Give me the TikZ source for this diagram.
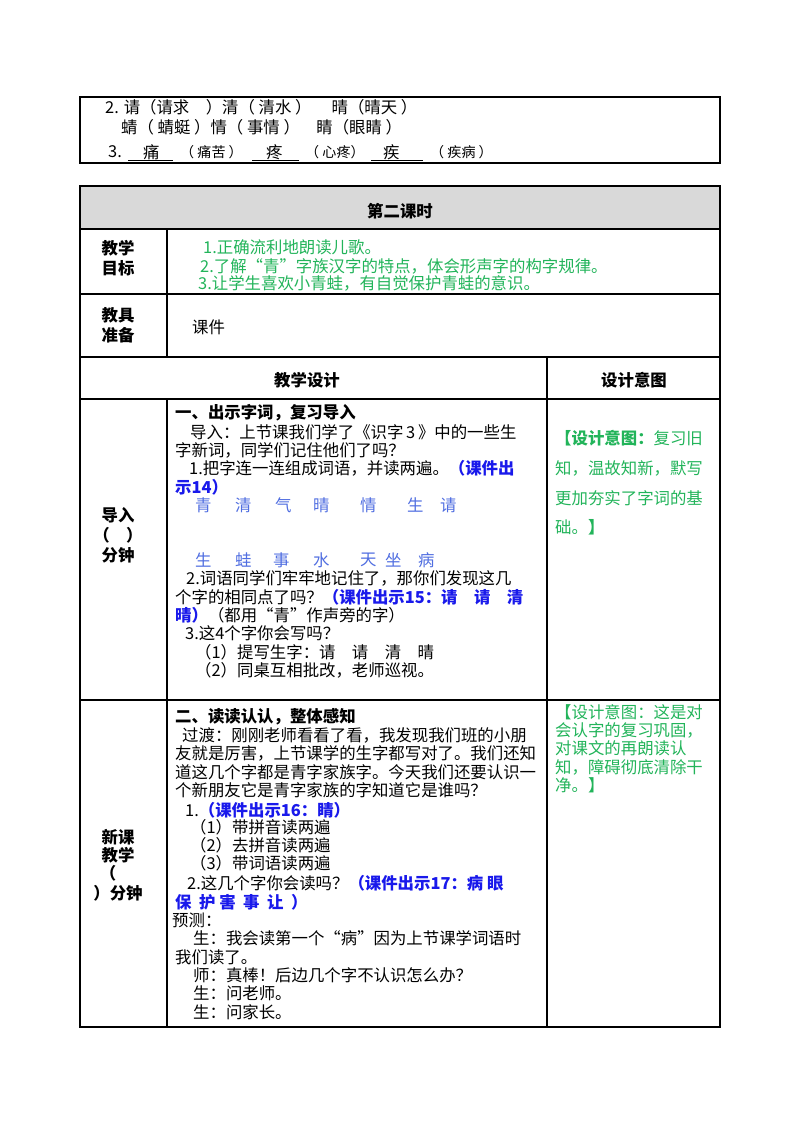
\documentclass[tikz,border=0pt]{standalone}
\usepackage{fontspec}
\setmainfont{Noto Sans CJK SC}
\definecolor{grn}{RGB}{34,180,90}
\definecolor{blu}{RGB}{25,25,235}
\definecolor{lblu}{RGB}{80,110,225}
\definecolor{hdr}{RGB}{217,217,217}
\newcommand{\B}[1]{\textcolor{blu}{\bfseries #1}}
\begin{document}
\begin{tikzpicture}[x=0.03cm,y=-0.03cm,
  tx/.style={anchor=west,inner sep=0pt,font=\fontsize{14}{17}\selectfont},
  sm/.style={anchor=west,inner sep=0pt,font=\fontsize{12}{14}\selectfont},
  ct/.style={anchor=center,inner sep=0pt,font=\fontsize{14}{17}\selectfont\bfseries,align=center},
  ln/.style={line width=0.9pt}]
\useasboundingbox[fill=white] (0,0) rectangle (800,1132);
% top table
\draw[ln] (80,97) rectangle (720,163);
\node[tx] (t1) at (105,107) {2. 请（请求\quad ）清（ 清水 ）\quad\ 晴（晴天 ）};
\node[tx] (t2) at (121,127) {蜻（ 蜻蜓 ）情（ 事情 ）\quad 睛（眼睛 ）};
\node[tx] (t3a) at (108,152) {3.};
\node[tx] (t3b) at (143,152) {痛};
\draw (128,160) -- (173,160);
\node[sm] (t3c) at (180,152) {（ 痛苦 ）};
\node[tx] (t3d) at (266,152) {疼};
\draw (252,160) -- (299,160);
\node[sm] (t3e) at (305,152) {（ 心疼）};
\node[tx] (t3f) at (383,152) {疾};
\draw (371,160) -- (423,160);
\node[sm] (t3g) at (430,152) {（ 疾病 ）};
% main table
\fill[hdr] (80,186) rectangle (720,229);
\draw[ln] (80,186) rectangle (720,1027);
\foreach \y in {229,294,357,399,700} \draw[ln] (80,\y) -- (720,\y);
\draw[ln] (167,229) -- (167,357);
\draw[ln] (167,399) -- (167,1027);
\draw[ln] (547,357) -- (547,1027);
\node[ct] (h) at (400,211) {第二课时};
\node[ct] (l1) at (118,258) {教学\\目标};
\node[tx,text=grn] (g1) at (203,247) {1.正确流利地朗读儿歌。};
\node[tx,text=grn] (g2) at (200,266) {2.了解“青”字族汉字的特点，体会形声字的构字规律。};
\node[tx,text=grn] (g3) at (198,283) {3.让学生喜欢小青蛙，有自觉保护青蛙的意识。};
\node[ct] (l2) at (118,325) {教具\\准备};
\node[tx] (kj) at (192,327) {课件};
\node[ct] (h2) at (307,380) {教学设计};
\node[ct] (h3) at (634,380) {设计意图};
% row 3
\node[ct] (l3) at (118,535) {导入\\（\quad ）\\分钟};
\node[tx] (a1) at (175,413) {\bfseries 一、出示字词，复习导入};
\node[tx] (a2) at (190,432) {导入：上节课我们学了《识字\,3\,》中的一些生};
\node[tx] (a3) at (175,450) {字新词，同学们记住他们了吗？};
\node[tx] (a4) at (189,468) {1.把字连一连组成词语，并读两遍。\B{（课件出}};
\node[tx] (a5) at (175,487) {\B{示14）}};
\foreach \x/\c in {195/青,235/清,275/气,313/晴,360/情,407/生,440/请}
  \node[tx,text=lblu] at (\x,505) {\c};
\foreach \x/\c in {195/生,235/蛙,273/事,313/水,360/天,385/坐,418/病}
  \node[tx,text=lblu] at (\x,560) {\c};
\node[tx] (a6) at (186,578) {2.词语同学们牢牢地记住了，那你们发现这几};
\node[tx] (a7) at (175,597) {个字的相同点了吗？\B{（课件出示15：请\quad 请\quad 清}};
\node[tx] (a8) at (175,615) {\B{晴）}（都用“青”作声旁的字）};
\node[tx] (a9) at (185,633) {3.这4个字你会写吗？};
\node[tx] (a10) at (195,652) {（1）提写生字：请\quad 请\quad 清\quad 晴};
\node[tx] (a11) at (195,670) {（2）同桌互相批改，老师巡视。};
\node[tx,text=grn] (r1) at (555,438) {\bfseries 【设计意图：\mdseries 复习旧};
\node[tx,text=grn] (r2) at (555,468) {知，温故知新，默写};
\node[tx,text=grn] (r3) at (555,498) {更加夯实了字词的基};
\node[tx,text=grn] (r4) at (555,527) {础。\bfseries 】};
% row 4
\node[ct] (l4) at (118,837) {新课};
\node[ct] (l5) at (118,855) {教学};
\node[ct] (l6) at (108,873) {（};
\node[ct] (l7) at (118,893) {）分钟};
\node[tx] (b1) at (175,717) {\bfseries 二、读读认认，整体感知};
\node[tx] (b2) at (182,735) {过渡：刚刚老师看看了看，我发现我们班的小朋};
\node[tx] (b3) at (175,753) {友就是厉害，上节课学的生字都写对了。我们还知};
\node[tx] (b4) at (175,772) {道这几个字都是青字家族字。今天我们还要认识一};
\node[tx] (b5) at (175,790) {个新朋友它是青字家族的字知道它是谁吗？};
\node[tx] (b6) at (185,810) {1.\B{（课件出示16：睛）}};
\node[tx] (b7) at (190,827) {（1）带拼音读两遍};
\node[tx] (b8) at (190,845) {（2）去拼音读两遍};
\node[tx] (b9) at (190,863) {（3）带词语读两遍};
\node[tx] (b10) at (187,883) {2.这几个字你会读吗？\B{（课件出示17：病\ 眼}};
\node[tx] (b11) at (175,902) {\B{保\ \ 护\ 害\ \ 事\ \ 让\ \ ）}};
\node[tx] (b12) at (172,920) {预测：};
\node[tx] (b13) at (193,938) {生：我会读第一个“病”因为上节课学词语时};
\node[tx] (b14) at (175,957) {我们读了。};
\node[tx] (b15) at (193,975) {师：真棒！后边几个字不认识怎么办？};
\node[tx] (b16) at (193,993) {生：问老师。};
\node[tx] (b17) at (193,1012) {生：问家长。};
\node[tx,text=grn] (s1) at (555,712) {【设计意图：这是对};
\node[tx,text=grn] (s2) at (555,730) {会认字的复习巩固，};
\node[tx,text=grn] (s3) at (555,748) {对课文的再朗读认};
\node[tx,text=grn] (s4) at (555,767) {知，障碍彻底清除干};
\node[tx,text=grn] (s5) at (555,785) {净。】};
\end{tikzpicture}
\end{document}
